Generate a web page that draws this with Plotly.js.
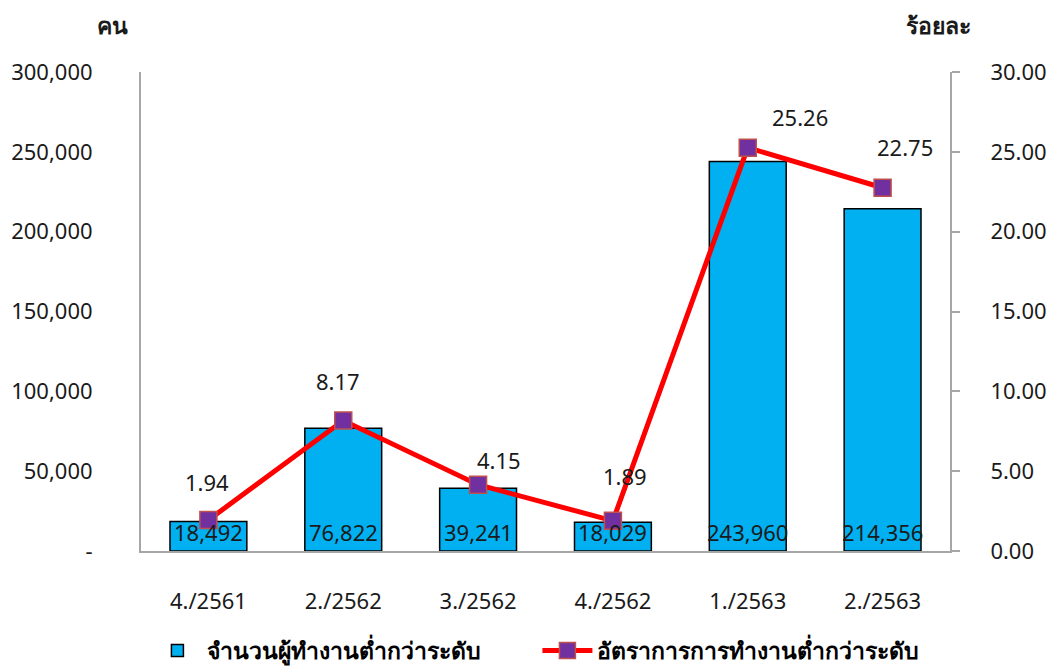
<!DOCTYPE html>
<html>
<head>
<meta charset="utf-8">
<script src="https://cdn.plot.ly/plotly-3.0.1.min.js"></script>
<style>html,body{margin:0;padding:0;background:#fff;}#chart{width:1053px;height:672px;}</style>
</head>
<body>
<div id="chart"></div>
<script>
// ---- data ----
const categories = ["4./2561", "2./2562", "3./2562", "4./2562", "1./2563", "2./2563"];
const workers = [18492, 76822, 39241, 18029, 243960, 214356];
const rates = [1.94, 8.17, 4.15, 1.89, 25.26, 22.75];
const barName = "จำนวนผู้ทำงานต่ำกว่าระดับ";
const lineName = "อัตราการการทำงานต่ำกว่าระดับ";
const leftTickVals = [0, 50000, 100000, 150000, 200000, 250000, 300000];
const leftTickText = ["-", "50,000", "100,000", "150,000", "200,000", "250,000", "300,000"];
const leftTitle = "คน";
const rightTitle = "ร้อยละ";

// label placement (pixels), style only
const rateLabelShift = [[-1, 38], [-5, 40], [21, 25], [12, 45], [52, 31], [22, 41]];

const FONT = "Noto Sans, Tahoma, sans-serif";
const TXT = "#1a1a1a";

const fmt = v => v.toLocaleString("en-US");

const traces = [
  {
    type: "bar", x: categories, y: workers, name: barName, yaxis: "y",
    marker: {color: "#00B0F0", line: {color: "#000000", width: 1.5}},
    hoverinfo: "skip"
  },
  {
    type: "scatter", mode: "lines+markers", x: categories, y: rates, name: lineName, yaxis: "y2",
    line: {color: "#FF0000", width: 5},
    marker: {symbol: "square", size: 17, color: "#7030A0", line: {color: "#C0504D", width: 1.5}},
    hoverinfo: "skip"
  }
];

const annotations = [];
categories.forEach((c, i) => {
  annotations.push({
    x: c, y: 0, xref: "x", yref: "y", text: fmt(workers[i]), showarrow: false,
    yanchor: "middle", yshift: 19, font: {family: FONT, size: 22, color: TXT}
  });
  annotations.push({
    x: c, y: rates[i], xref: "x", yref: "y2", text: rates[i].toFixed(2), showarrow: false,
    xshift: rateLabelShift[i][0], yshift: rateLabelShift[i][1],
    font: {family: FONT, size: 22, color: TXT}
  });
});
annotations.push({
  xref: "paper", yref: "paper", x: -0.035, y: 1.098, xanchor: "center", yanchor: "middle",
  text: "<b>" + leftTitle + "</b>", showarrow: false, font: {family: FONT, size: 23, color: TXT}
});
annotations.push({
  xref: "paper", yref: "paper", x: 0.986, y: 1.098, xanchor: "center", yanchor: "middle",
  text: "<b>" + rightTitle + "</b>", showarrow: false, font: {family: FONT, size: 23, color: TXT}
});

const layout = {
  width: 1053, height: 672,
  margin: {l: 141, r: 103, t: 72, b: 121, autoexpand: false},
  paper_bgcolor: "#ffffff", plot_bgcolor: "#ffffff",
  font: {family: FONT, size: 22, color: TXT},
  bargap: 0.43,
  showlegend: true,
  legend: {
    orientation: "h", xref: "container", yref: "container",
    x: 0.14, xanchor: "left", y: 0, yanchor: "bottom",
    font: {family: FONT, size: 23, color: "#000", weight: "bold"},
    entrywidth: 325, entrywidthmode: "pixels", itemwidth: 50, traceorder: "normal"
  },
  xaxis: {
    type: "category", showline: true, linecolor: "#A6A6A6", linewidth: 2,
    ticks: "", showgrid: false, zeroline: false, automargin: false,
    ticklabelstandoff: 30, tickfont: {family: FONT, size: 22, color: TXT}
  },
  yaxis: {
    range: [0, 300000], tickvals: leftTickVals, ticktext: leftTickText,
    showline: true, linecolor: "#A6A6A6", linewidth: 2, ticks: "", automargin: false,
    showgrid: false, zeroline: false, ticklabelstandoff: 42,
    tickfont: {family: FONT, size: 22, color: TXT}
  },
  yaxis2: {
    overlaying: "y", side: "right", range: [0, 30], dtick: 5, tick0: 0, tickformat: ".2f",
    showline: true, linecolor: "#A6A6A6", linewidth: 2, ticks: "outside", ticklen: 8,
    tickcolor: "#A6A6A6", tickwidth: 2, showgrid: false, zeroline: false, automargin: false,
    ticklabelstandoff: 26, tickfont: {family: FONT, size: 22, color: TXT}
  },
  annotations: annotations
};

Plotly.newPlot("chart", traces, layout, {displayModeBar: false, staticPlot: true});
</script>
</body>
</html>
